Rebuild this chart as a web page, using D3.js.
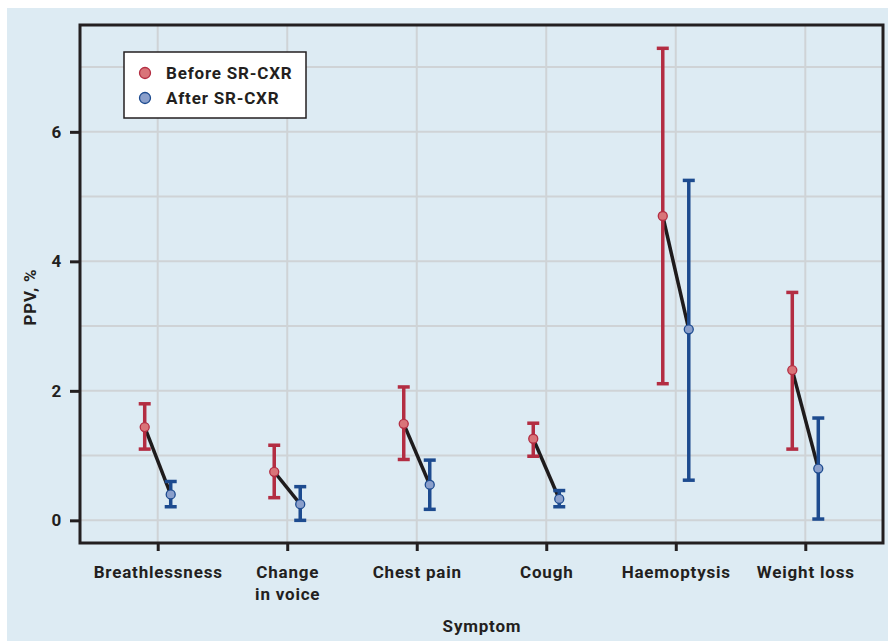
<!DOCTYPE html>
<html>
<head>
<meta charset="utf-8">
<script src="https://cdn.jsdelivr.net/npm/d3@7"></script>
<style>
  body { margin: 0; background: #fff; }
  svg { display: block; }
  text { font-family: "Roboto", "DejaVu Sans", sans-serif; fill: #231f20; letter-spacing: 0.8px; }
</style>
</head>
<body>
<div id="chart"></div>
<script>
// symptoms and PPV values (%)
var symptoms = ["Breathlessness", "Change in voice", "Chest pain", "Cough", "Haemoptysis", "Weight loss"];
var before = [1.44, 0.75, 1.49, 1.26, 4.70, 2.32];
var beforeLo = [1.10, 0.35, 0.94, 0.99, 2.11, 1.10];
var beforeHi = [1.80, 1.16, 2.06, 1.50, 7.29, 3.52];
var after = [0.40, 0.25, 0.55, 0.33, 2.95, 0.80];
var afterLo = [0.21, 0.00, 0.17, 0.21, 0.62, 0.02];
var afterHi = [0.60, 0.52, 0.93, 0.46, 5.25, 1.58];
var yTicks = [0, 2, 4, 6];
var yGrid = [0, 1, 2, 3, 4, 5, 6, 7];

var red = "#b32d42", redFill = "#d97479";
var blue = "#1d4b8f", blueFill = "#8a9fcb";

var W = 888, H = 641;
var margin = {top: 25, right: 5, bottom: 98, left: 80};
var w = W - margin.left - margin.right;
var h = H - margin.top - margin.bottom;
var fs = 17;

var svg = d3.select("#chart").append("svg")
  .attr("width", W).attr("height", H);

// light blue panel
svg.append("rect").attr("x", 7).attr("y", 8).attr("width", W - 7).attr("height", H - 8)
  .attr("fill", "#ddebf3");

var g = svg.append("g").attr("transform", "translate(" + margin.left + "," + margin.top + ")");

var x = d3.scalePoint().domain(symptoms).range([0, w]).padding(0.6);
var y = d3.scaleLinear().domain([-0.35, 7.65]).range([h, 0]);
var off = 13;

// gridlines
g.append("g").selectAll("line").data(yGrid).enter().append("line")
  .attr("x1", 0).attr("x2", w)
  .attr("y1", function(d) { return y(d); }).attr("y2", function(d) { return y(d); })
  .attr("stroke", "#cfd3d6").attr("stroke-width", 2);
g.append("g").selectAll("line").data(symptoms).enter().append("line")
  .attr("x1", function(d) { return x(d); }).attr("x2", function(d) { return x(d); })
  .attr("y1", 0).attr("y2", h)
  .attr("stroke", "#cfd3d6").attr("stroke-width", 2);

// axes
var xAxis = g.append("g").attr("transform", "translate(0," + h + ")")
  .call(d3.axisBottom(x).tickSize(8).tickPadding(15).tickSizeOuter(0));
var yAxis = g.append("g")
  .call(d3.axisLeft(y).tickValues(yTicks).tickSize(10).tickPadding(8).tickSizeOuter(0));
[xAxis, yAxis].forEach(function(a) {
  a.select(".domain").remove();
  a.selectAll(".tick line").attr("stroke", "#231f20").attr("stroke-width", 3);
  a.selectAll("text").attr("font-size", fs).attr("font-weight", 700).attr("fill", "#231f20");
});

// wrap "Change in voice"
xAxis.selectAll(".tick text").each(function(d) {
  if (d === "Change in voice") {
    var t = d3.select(this);
    var dy = t.attr("dy");
    t.text(null);
    t.append("tspan").attr("x", 0).attr("dy", dy).text("Change");
    t.append("tspan").attr("x", 0).attr("dy", "1.3em").text("in voice");
  }
});

// plot frame
g.append("rect").attr("x", 0).attr("y", 0).attr("width", w).attr("height", h)
  .attr("fill", "none").attr("stroke", "#231f20").attr("stroke-width", 3);

// connecting lines
g.append("g").selectAll("line").data(symptoms).enter().append("line")
  .attr("x1", function(d) { return x(d) - off; })
  .attr("y1", function(d, i) { return y(before[i]); })
  .attr("x2", function(d) { return x(d) + off; })
  .attr("y2", function(d, i) { return y(after[i]); })
  .attr("stroke", "#1e1b1c").attr("stroke-width", 3.5);

function errorBars(vals, lo, hi, dx, col, fill) {
  var grp = g.append("g");
  var bars = grp.selectAll("g").data(symptoms).enter().append("g");
  bars.append("line")
    .attr("x1", function(d) { return x(d) + dx; }).attr("x2", function(d) { return x(d) + dx; })
    .attr("y1", function(d, i) { return y(lo[i]); }).attr("y2", function(d, i) { return y(hi[i]); })
    .attr("stroke", col).attr("stroke-width", 3.5);
  [lo, hi].forEach(function(arr) {
    bars.append("line")
      .attr("x1", function(d) { return x(d) + dx - 6; }).attr("x2", function(d) { return x(d) + dx + 6; })
      .attr("y1", function(d, i) { return y(arr[i]); }).attr("y2", function(d, i) { return y(arr[i]); })
      .attr("stroke", col).attr("stroke-width", 3.5);
  });
  bars.append("circle")
    .attr("cx", function(d) { return x(d) + dx; })
    .attr("cy", function(d, i) { return y(vals[i]); })
    .attr("r", 4.5).attr("fill", fill).attr("stroke", col).attr("stroke-width", 1.3);
}
errorBars(before, beforeLo, beforeHi, -off, red, redFill);
errorBars(after, afterLo, afterHi, off, blue, blueFill);

// legend
var leg = svg.append("g").attr("transform", "translate(124,52)");
leg.append("rect").attr("width", 182).attr("height", 66)
  .attr("fill", "#fff").attr("stroke", "#231f20").attr("stroke-width", 1.5);
var legItems = [{label: "Before SR-CXR", col: red, fill: redFill}, {label: "After SR-CXR", col: blue, fill: blueFill}];
legItems.forEach(function(it, i) {
  leg.append("circle").attr("cx", 21).attr("cy", 21 + i * 25).attr("r", 5.5)
    .attr("fill", it.fill).attr("stroke", it.col).attr("stroke-width", 1.3);
  leg.append("text").attr("x", 42).attr("y", 21 + i * 25).attr("dy", "0.35em")
    .attr("font-size", fs).attr("font-weight", 700).text(it.label);
});

// axis titles
svg.append("text").attr("x", 482).attr("y", 632).attr("text-anchor", "middle")
  .attr("font-size", fs).attr("font-weight", 700).text("Symptom");
svg.append("text").attr("transform", "translate(36,297) rotate(-90)").attr("text-anchor", "middle")
  .attr("font-size", fs).attr("font-weight", 700).text("PPV, %");
</script>
</body>
</html>
